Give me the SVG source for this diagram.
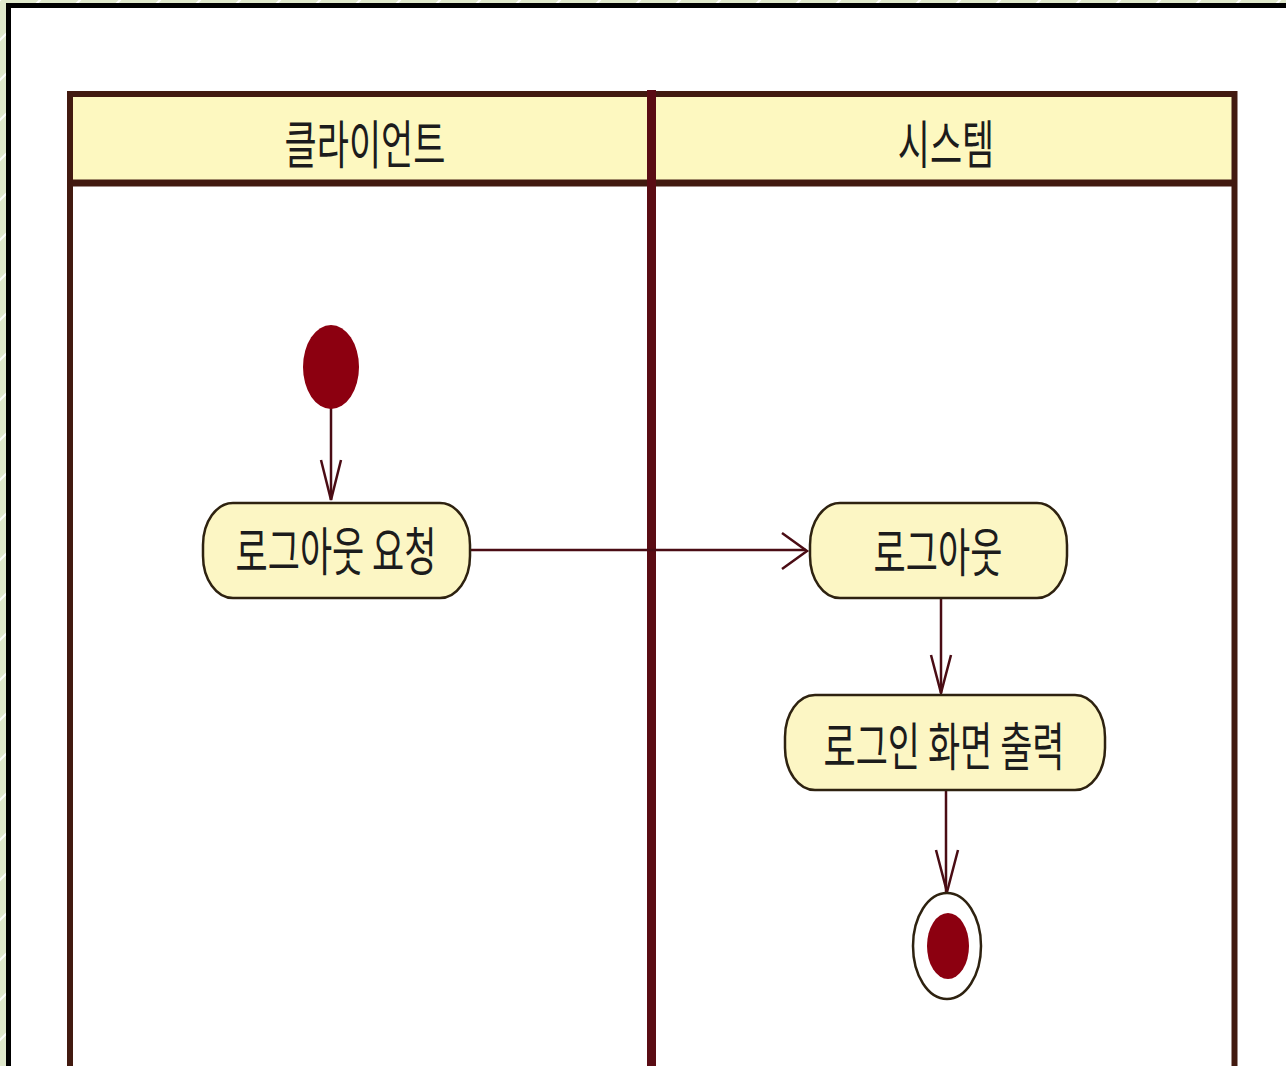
<svg xmlns="http://www.w3.org/2000/svg" width="1286" height="1066" viewBox="0 0 1286 1066">
<defs>
<pattern id="bgp" width="40" height="40" patternUnits="userSpaceOnUse">
<rect width="40" height="40" fill="#dfe8cb"/>
<path d="M-10,10 L10,-10 M0,40 L40,0 M30,50 L50,30" stroke="#ffffff" stroke-width="2"/>
</pattern>
<style>
.lane{fill:none;stroke:#421a10;}
.div{stroke:#5a0c14;stroke-width:9;}
.node{fill:#fcf6c4;stroke:#2e2210;stroke-width:2.5;}
.t{font-family:"Noto Sans CJK KR","Noto Sans",sans-serif;font-size:35px;fill:#1c1c1c;text-anchor:middle;dominant-baseline:central;}
.edge{fill:none;stroke:#4a0c14;stroke-width:2.5;}
.head{fill:none;stroke:#4a0c14;stroke-width:2.5;stroke-linejoin:miter;}
</style>
</defs>
<rect width="1286" height="1066" fill="url(#bgp)"/>
<rect x="8.5" y="5.5" width="1290" height="1080" fill="#ffffff" stroke="#000000" stroke-width="5"/>
<g id="lanes">
<rect x="70" y="94" width="1164.5" height="89" fill="#fdf8c0"/>
<path class="lane" d="M70,1066 V94 H1234.5 V1066" stroke-width="6"/>
<path class="lane" d="M70,183 H1234.5" stroke-width="7"/>
<path class="div" d="M651.5,90 V1066"/>
<text class="t" transform="translate(365,141) scale(1,1.5)">클라이언트</text>
<text class="t" transform="translate(946,141) scale(1,1.5)">시스템</text>
</g>
<g id="connectors">
<path class="edge" d="M331,408 V500"/>
<path class="head" d="M321,460 L331,500 L341,460"/>
<path class="edge" d="M470,550 H806"/>
<path class="head" d="M782,533 L807,551 L782,569"/>
<path class="edge" d="M941,598 V693"/>
<path class="head" d="M931,655 L941,693 L951,655"/>
<path class="edge" d="M946,790 V892"/>
<path class="head" d="M936,850 L947,892 L958,850"/>
</g>
<g id="start">
<ellipse cx="331" cy="367" rx="28" ry="42" fill="#8c0010"/>
</g>
<g id="node-logout-request">
<rect class="node" x="203" y="503" width="267" height="95" rx="30" ry="42"/>
<text class="t" transform="translate(336,548) scale(1,1.5)">로그아웃 요청</text>
</g>
<g id="node-logout">
<rect class="node" x="810" y="503" width="257" height="95" rx="30" ry="42"/>
<text class="t" transform="translate(938,549) scale(1,1.5)">로그아웃</text>
</g>
<g id="node-login-screen">
<rect class="node" x="785" y="695" width="320" height="95" rx="30" ry="42"/>
<text class="t" transform="translate(944,743) scale(1,1.5)">로그인 화면 출력</text>
</g>
<g id="end">
<ellipse cx="947" cy="946" rx="34" ry="53" fill="#ffffff" stroke="#2e2210" stroke-width="2.5"/>
<ellipse cx="948" cy="946" rx="21" ry="33" fill="#8c0010"/>
</g>
</svg>
